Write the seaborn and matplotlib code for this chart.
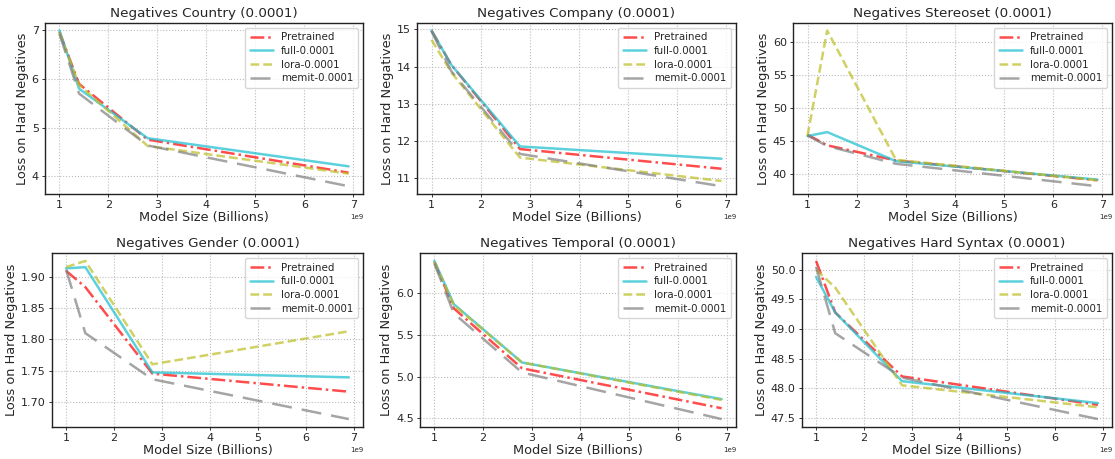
import numpy as np
import pandas as pd
import matplotlib
matplotlib.use("Agg")
import matplotlib.pyplot as plt
import seaborn as sns

sizes = [1.0e9, 1.4e9, 2.8e9, 6.9e9]
methods = ["Pretrained", "full-0.0001", "lora-0.0001", "memit-0.0001"]

titles = ["Negatives Country (0.0001)", "Negatives Company (0.0001)", "Negatives Stereoset (0.0001)",
          "Negatives Gender (0.0001)", "Negatives Temporal (0.0001)", "Negatives Hard Syntax (0.0001)"]

country_pre = [6.97, 5.90, 4.75, 4.07]
country_full = [7.00, 5.80, 4.78, 4.20]
country_lora = [6.95, 5.88, 4.62, 4.05]
country_memit = [6.93, 5.70, 4.63, 3.79]

company_pre = [14.97, 14.05, 11.78, 11.25]
company_full = [14.97, 14.05, 11.85, 11.52]
company_lora = [14.72, 13.85, 11.55, 10.92]
company_memit = [14.95, 13.88, 11.65, 10.78]

stereo_pre = [45.9, 44.3, 42.0, 39.0]
stereo_full = [45.7, 46.3, 41.9, 39.1]
stereo_lora = [45.8, 61.7, 42.1, 39.0]
stereo_memit = [45.8, 44.2, 41.5, 38.1]

gender_pre = [1.910, 1.884, 1.745, 1.716]
gender_full = [1.914, 1.916, 1.747, 1.739]
gender_lora = [1.916, 1.926, 1.760, 1.813]
gender_memit = [1.912, 1.810, 1.736, 1.672]

temporal_pre = [6.38, 5.82, 5.10, 4.62]
temporal_full = [6.39, 5.87, 5.17, 4.73]
temporal_lora = [6.38, 5.86, 5.17, 4.72]
temporal_memit = [6.36, 5.76, 5.05, 4.49]

syntax_pre = [50.15, 49.28, 48.20, 47.72]
syntax_full = [49.88, 49.28, 48.12, 47.75]
syntax_lora = [50.00, 49.70, 48.05, 47.68]
syntax_memit = [50.05, 48.93, 48.18, 47.48]

panels = [
    [country_pre, country_full, country_lora, country_memit],
    [company_pre, company_full, company_lora, company_memit],
    [stereo_pre, stereo_full, stereo_lora, stereo_memit],
    [gender_pre, gender_full, gender_lora, gender_memit],
    [temporal_pre, temporal_full, temporal_lora, temporal_memit],
    [syntax_pre, syntax_full, syntax_lora, syntax_memit],
]

sns.set_style("ticks")
plt.rcParams["font.family"] = ["DejaVu Sans"]

palette = {"Pretrained": "red", "full-0.0001": "#17becf", "lora-0.0001": "#bcbd22", "memit-0.0001": "#7f7f7f"}
dashes = {"Pretrained": (5.5, 1.6, 1.0, 1.6), "full-0.0001": "", "lora-0.0001": (3.5, 1.6), "memit-0.0001": (8, 4)}

# axes boxes in pixels: (left, right, top, bottom) measured from the top-left corner
W, H = 1115, 459
boxes = [(45, 363, 22.7, 194), (417, 736, 22.7, 194), (793, 1112, 22.7, 194),
         (52, 363, 253, 427), (420, 736, 253, 427), (802, 1112, 253, 427)]

fig, axes = plt.subplots(2, 3, figsize=(11.15, 4.59), dpi=100)
for ax, box, title, series in zip(axes.flat, boxes, titles, panels):
    l, r, t, b = box
    ax.set_position([l / W, 1 - b / H, (r - l) / W, (b - t) / H])
    rows = []
    for m, vals in zip(methods, series):
        for x, v in zip(sizes, vals):
            rows.append({"size": x, "loss": v, "method": m})
    df = pd.DataFrame(rows)
    sns.lineplot(data=df, x="size", y="loss", hue="method", style="method",
                 hue_order=methods, style_order=methods, palette=palette, dashes=dashes,
                 linewidth=1.8, alpha=0.7, ax=ax)
    ax.set_title(title, fontsize=9.7, pad=4)
    ax.set_xlabel("Model Size (Billions)", fontsize=9.3, labelpad=0.5)
    ax.set_ylabel("Loss on Hard Negatives", fontsize=9.3, labelpad=2)
    ax.tick_params(labelsize=8, length=2.5, width=0.7, pad=2, color="#333333")
    ax.grid(True, linestyle=":", color="#bbbbbb", linewidth=0.8)
    for s in ax.spines.values():
        s.set_color("#222222")
        s.set_linewidth(1.0)
    ax.legend(loc="upper right", fontsize=7.4, handlelength=2.2, borderpad=0.45,
              labelspacing=0.35, handletextpad=0.8)
    ax.xaxis.get_offset_text().set_fontsize(5)

fig.savefig("out.png", dpi=100)
